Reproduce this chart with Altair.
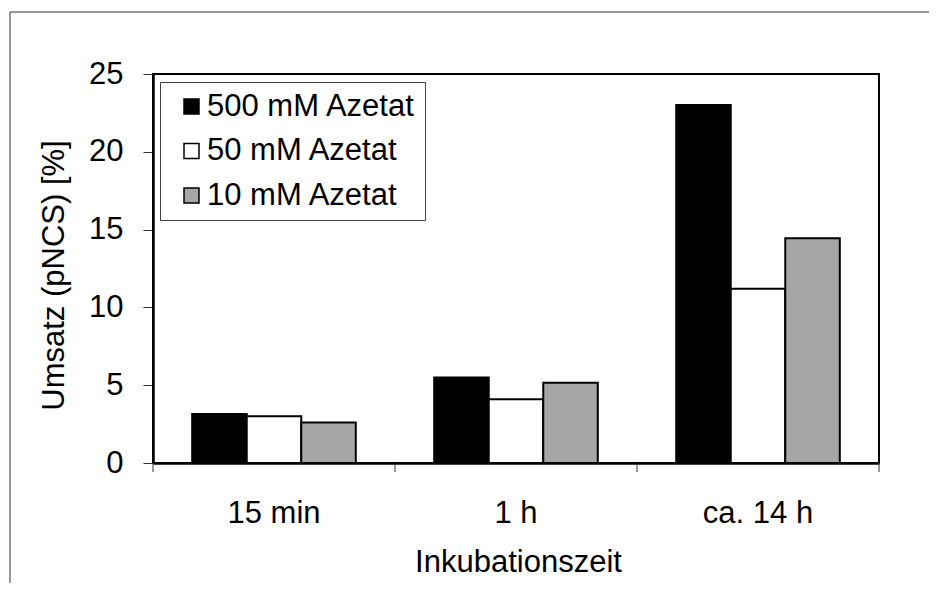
import altair as alt
import pandas as pd

categories = ["15 min", "1 h", "ca. 14 h"]
series = ["500 mM Azetat", "50 mM Azetat", "10 mM Azetat"]
v500 = [3.15, 5.5, 23.0]
v50 = [3.0, 4.1, 11.2]
v10 = [2.6, 5.15, 14.45]
fills = ["#000000", "#ffffff", "#a6a6a6"]
y_ticks = [0, 5, 10, 15, 20, 25]

rows = []
for s, vals in zip(series, [v500, v50, v10]):
    for c, v in zip(categories, vals):
        rows.append({"Zeit": c, "Serie": s, "Wert": v})
df = pd.DataFrame(rows)

FONT = "Liberation Sans"
FS = 31
W, H = 726, 389
P_IN, P_OUT = 0.324, 0.162
STEP = W / len(categories)
HALF_GAP = STEP * P_IN / 2  # distance from band edge to category boundary

x_scale = alt.Scale(domain=categories, paddingInner=P_IN, paddingOuter=P_OUT)
x_axis = alt.Axis(
    title="Inkubationszeit", ticks=False, tickSize=0, labelAngle=0,
    labelFontSize=FS, labelFont=FONT, labelColor="black",
    labelBaseline="alphabetic", labelPadding=59,
    titleFontSize=FS, titleFont=FONT, titleFontWeight="normal",
    titleColor="black", titleBaseline="alphabetic",
    titleX=365, titleY=108, titleAlign="center",
    domainColor="black", domainWidth=2.5,
)

frame = alt.Chart(pd.DataFrame({"a": [0]})).mark_rect(
    fill=None, stroke="#333333", strokeWidth=1
).encode(
    x=alt.value(-143), x2=alt.value(820), y=alt.value(-62), y2=alt.value(580)
)

bars = alt.Chart(df).mark_bar(stroke="black", strokeWidth=2, opacity=1).encode(
    x=alt.X("Zeit:N", scale=x_scale, sort=categories, axis=x_axis),
    xOffset=alt.XOffset("Serie:N", sort=series, scale=alt.Scale(domain=series, paddingInner=0, paddingOuter=0)),
    y=alt.Y(
        "Wert:Q",
        scale=alt.Scale(domain=[0, 25], nice=False, zero=True),
        axis=alt.Axis(
            title="Umsatz (pNCS) [%]", values=y_ticks, grid=False,
            tickSize=10, tickColor="#333333", tickWidth=1,
            labelFontSize=FS, labelFont=FONT, labelColor="black", labelPadding=20,
            titleFontSize=FS, titleFont=FONT, titleFontWeight="normal",
            titleColor="black", titleAngle=270, titleBaseline="alphabetic",
            titleAlign="center", titleX=-90, titleY=201,
            domainColor="black", domainWidth=2.5,
        ),
    ),
    fill=alt.Fill(
        "Serie:N", sort=series,
        scale=alt.Scale(domain=series, range=fills),
        legend=alt.Legend(
            title=None,
            orient="none", legendX=7, legendY=8,
            strokeColor="#404040", fillColor="white", padding=9,
            symbolType="square", symbolSize=225, symbolStrokeColor="black",
            symbolStrokeWidth=1.5, symbolOffset=7, symbolOpacity=1,
            labelOffset=0, labelFontSize=FS, labelFont=FONT, labelColor="black",
            labelLimit=500, rowPadding=12.5,
        ),
    ),
)

tick_df = pd.DataFrame({"Zeit": categories})
ticks_start = alt.Chart(tick_df).mark_rule(
    color="#333333", strokeWidth=1, xOffset=-HALF_GAP
).encode(
    x=alt.X("Zeit:N", bandPosition=0, sort=categories, scale=x_scale, axis=x_axis),
    y=alt.value(H), y2=alt.value(H + 9),
)
ticks_end = alt.Chart(pd.DataFrame({"Zeit": categories[-1:]})).mark_rule(
    color="#333333", strokeWidth=1, xOffset=HALF_GAP
).encode(
    x=alt.X("Zeit:N", bandPosition=1, sort=categories, scale=x_scale, axis=x_axis),
    y=alt.value(H), y2=alt.value(H + 9),
)

chart = alt.layer(frame, bars, ticks_start, ticks_end).properties(
    width=W, height=H,
    autosize=alt.AutoSizeParams(type="none"),
    padding={"left": 145, "top": 66, "right": 50, "bottom": 120},
    background="white",
).configure_view(stroke="black", strokeWidth=2)

chart.save("out.html", embed_options={"renderer": "svg", "actions": False})
